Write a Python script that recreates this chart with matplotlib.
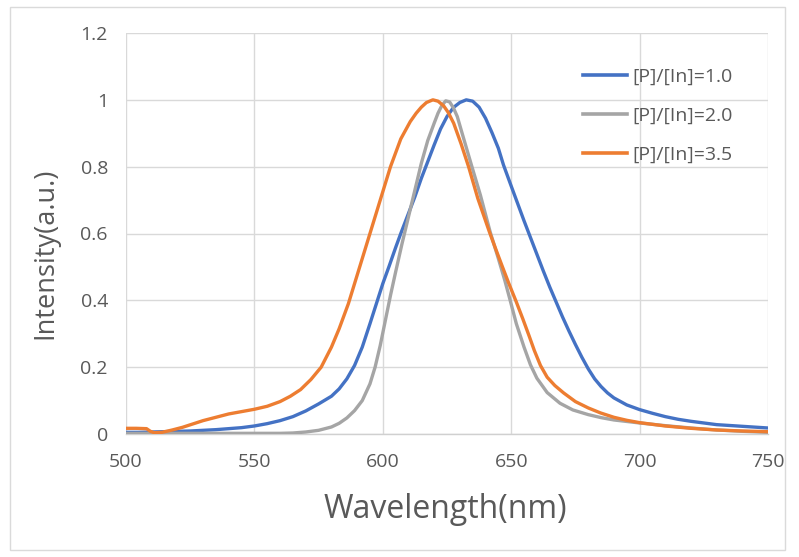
import matplotlib
matplotlib.use("Agg")
import matplotlib.pyplot as plt
from matplotlib.patches import Rectangle
from matplotlib.lines import Line2D

# ---- data ----
wl_10 = [500, 505, 510, 515, 520, 525, 530, 535, 540, 545, 550, 555, 560, 565, 570, 575,
         580, 583, 586, 589, 592, 595, 597.5, 600, 602.5, 605, 607, 610, 612.5, 615, 617,
         620, 622.5, 625, 627.5, 630, 632.5, 635, 637.5, 640, 642.5, 645, 647, 650, 652.5,
         655, 657.5, 660, 662.5, 665, 667.5, 670, 672.5, 675, 677.5, 680, 682.5, 685, 687.5,
         690, 695, 700, 705, 710, 715, 720, 725, 730, 740, 750]
int_10 = [0.005, 0.005, 0.006, 0.007, 0.008, 0.009, 0.011, 0.013, 0.016, 0.019, 0.024, 0.031,
          0.040, 0.052, 0.069, 0.090, 0.113, 0.135, 0.165, 0.205, 0.260, 0.330, 0.390, 0.450,
          0.503, 0.558, 0.600, 0.660, 0.710, 0.765, 0.805, 0.865, 0.913, 0.950, 0.977, 0.992,
          1.0, 0.996, 0.978, 0.945, 0.902, 0.855, 0.805, 0.742, 0.690, 0.638, 0.588, 0.538,
          0.488, 0.440, 0.395, 0.350, 0.308, 0.268, 0.230, 0.195, 0.165, 0.142, 0.123, 0.108,
          0.087, 0.073, 0.062, 0.052, 0.044, 0.038, 0.033, 0.028, 0.023, 0.018]

wl_20 = [500, 520, 540, 555, 560, 565, 570, 575, 580, 583, 586, 589, 592, 595, 597, 599,
         601, 603, 605, 607.5, 610, 612.5, 615, 617.5, 620, 621.5, 623, 624.5, 626, 627.5,
         629, 631, 634.7, 638, 641.8, 645, 647.5, 649.6, 652, 655, 657.5, 660, 664, 669, 674,
         680, 685, 690, 700, 710, 720, 730, 740, 750]
int_20 = [0.002, 0.002, 0.002, 0.002, 0.002, 0.003, 0.006, 0.011, 0.021, 0.032, 0.048, 0.070,
          0.100, 0.150, 0.200, 0.265, 0.340, 0.415, 0.485, 0.570, 0.650, 0.730, 0.810, 0.878,
          0.930, 0.960, 0.983, 0.997, 0.994, 0.976, 0.950, 0.897, 0.800, 0.715, 0.605, 0.525,
          0.460, 0.400, 0.330, 0.260, 0.207, 0.167, 0.124, 0.092, 0.072, 0.058, 0.049, 0.042,
          0.033, 0.025, 0.018, 0.012, 0.008, 0.005]

wl_35 = [500, 504, 508, 509.5, 511, 514, 518, 522, 526, 530, 535, 540, 545, 550, 555, 560,
         564, 568, 572, 576, 580, 583, 586.6, 590, 594.4, 597, 600, 603, 607, 610.7, 613,
         615, 617, 619.5, 621.5, 623.7, 625.5, 627.6, 630.5, 633.4, 637, 641.5, 644, 646.5,
         649, 652, 654.5, 657, 659, 661.4, 664, 667, 670.4, 675, 680, 684.8, 690, 695, 700,
         710, 720, 730, 740, 750]
int_35 = [0.017, 0.017, 0.016, 0.008, 0.004, 0.005, 0.012, 0.020, 0.030, 0.040, 0.050, 0.060,
          0.067, 0.074, 0.083, 0.097, 0.113, 0.133, 0.163, 0.200, 0.260, 0.315, 0.390, 0.475,
          0.585, 0.650, 0.725, 0.800, 0.883, 0.935, 0.960, 0.978, 0.992, 1.0, 0.996, 0.982,
          0.962, 0.930, 0.868, 0.800, 0.705, 0.605, 0.553, 0.502, 0.452, 0.395, 0.345, 0.293,
          0.250, 0.205, 0.170, 0.145, 0.123, 0.097, 0.078, 0.063, 0.050, 0.041, 0.034, 0.024,
          0.017, 0.012, 0.009, 0.007]

labels = ["[P]/[In]=1.0", "[P]/[In]=2.0", "[P]/[In]=3.5"]
colors = ["#4472C4", "#A5A5A5", "#ED7D31"]
x_ticks = [500, 550, 600, 650, 700, 750]
y_ticks = [0, 0.2, 0.4, 0.6, 0.8, 1.0, 1.2]
y_ticklabels = ["0", "0.2", "0.4", "0.6", "0.8", "1", "1.2"]

plt.rcParams['font.family'] = ['Open Sans', 'DejaVu Sans']

fig = plt.figure(figsize=(7.99, 5.57), dpi=100)
fig.patches.append(Rectangle((10/799, 1-550/557), 775/799, 543/557, transform=fig.transFigure,
                             fill=False, edgecolor="#DADADA", linewidth=1.0))

ax = fig.add_axes([126/799, 1-434/557, 642/799, 401/557])
series = [(wl_10, int_10), (wl_20, int_20), (wl_35, int_35)]
for i in range(3):
    x, y = series[i]
    ax.plot(x, y, color=colors[i], linewidth=2.4, solid_joinstyle='round',
            solid_capstyle='round', label=labels[i], zorder=3)

ax.set_xlim(500, 750)
ax.set_ylim(0, 1.2)
ax.set_xticks(x_ticks)
ax.set_yticks(y_ticks)
ax.set_yticklabels(y_ticklabels)
ax.grid(True, color="#D9D9D9", linewidth=1.0, zorder=0)
ax.set_axisbelow(True)
for s in ["top", "right", "left"]:
    ax.spines[s].set_visible(False)
ax.spines["bottom"].set_color("#D0D0D0")
ax.spines["bottom"].set_linewidth(1.0)
ax.tick_params(axis='both', length=0, labelsize=14, labelcolor="#595959")
ax.tick_params(axis='x', pad=14)
ax.tick_params(axis='y', pad=13)

fig.text(445/799, 1-510/557, "Wavelength(nm)", fontsize=23, color="#595959",
         ha="center", va="center")
fig.text(45/799, 1-253/557, "Intensity(a.u.)", fontsize=19.5, color="#595959",
         ha="center", va="center", rotation=90)

handles = [Line2D([0], [0], color=c, linewidth=2.6) for c in colors]
leg = ax.legend(handles, labels, loc="upper left", bbox_to_anchor=(565/799, 1-50/557),
                bbox_transform=fig.transFigure, frameon=False, fontsize=14,
                labelcolor="#595959", handlelength=2.3, handletextpad=0.25, labelspacing=1.1)

fig.savefig("out.png", dpi=100)
